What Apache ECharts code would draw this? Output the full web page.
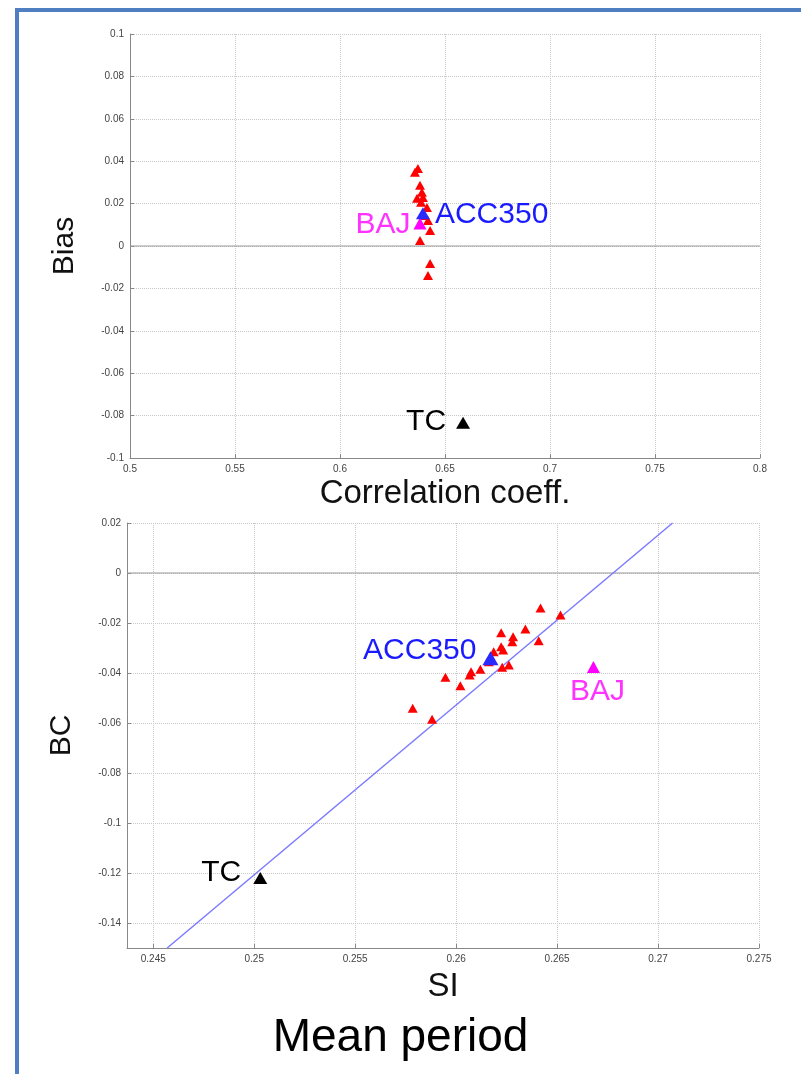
<!DOCTYPE html>
<html>
<head>
<meta charset="utf-8">
<script src="https://cdn.jsdelivr.net/npm/echarts@6/dist/echarts.min.js"></script>
<style>
  body { margin: 0; background: #fff; }
  #frame { position: absolute; left: 15px; top: 8px; width: 782px; height: 1080px;
           border: 4px solid #4f7fc0; border-bottom: none; }
  #chart { position: absolute; left: 0; top: 0; width: 801px; height: 1074px; }
</style>
</head>
<body>
<div id="frame"></div>
<div id="chart"></div>
<script>
    // top panel: correlation coeff. vs bias
    var topRed = [
        [0.6371, 0.0366], [0.6357, 0.0348], [0.6381, 0.0286], [0.6390, 0.0253],
        [0.6367, 0.0225], [0.6395, 0.0229], [0.6414, 0.0182], [0.6386, 0.0206],
        [0.6400, 0.0144], [0.6419, 0.0120], [0.6429, 0.0073], [0.6381, 0.0026],
        [0.6429, -0.0083], [0.6419, -0.0139]
    ];
    var topAcc = [[0.6395, 0.0154]];
    var topBaj = [[0.6381, 0.0106]];
    var topTc = [[0.6586, -0.0834]];
    var topXTicks = [0.5, 0.55, 0.6, 0.65, 0.7, 0.75, 0.8];
    var topYTicks = [-0.1, -0.08, -0.06, -0.04, -0.02, 0, 0.02, 0.04, 0.06, 0.08, 0.1];

    // bottom panel: SI vs BC
    var botRed = [
        [0.26418, -0.0140], [0.26517, -0.0168], [0.26343, -0.0224], [0.26223, -0.0239],
        [0.26282, -0.0255], [0.26278, -0.0275], [0.26409, -0.0271], [0.26223, -0.0295],
        [0.26233, -0.0308], [0.26186, -0.0315], [0.26162, -0.0355], [0.26228, -0.0377],
        [0.26261, -0.0368], [0.26120, -0.0385], [0.26074, -0.0395], [0.26067, -0.0408],
        [0.25947, -0.0417], [0.26021, -0.0451], [0.25785, -0.0541], [0.25881, -0.0585]
    ];
    var botAcc = [[0.26170, -0.0341]];
    var botBaj = [[0.26680, -0.0376]];
    var botTc = [[0.25030, -0.1220]];
    var fitLine = [[0.24569, -0.15], [0.27072, 0.02]];
    var botXTicks = [0.245, 0.25, 0.255, 0.26, 0.265, 0.27, 0.275];
    var botYTicks = [-0.14, -0.12, -0.1, -0.08, -0.06, -0.04, -0.02, 0, 0.02];

    var font = 'Liberation Sans, Arial, sans-serif';

    function xAx(idx, min, max, ticks, name, nameGap) {
        return {
            gridIndex: idx, type: 'value', min: min, max: max,
            name: name, nameLocation: 'middle', nameGap: nameGap,
            nameTextStyle: { fontSize: 33, color: '#111', fontFamily: font },
            axisLine: { onZero: false, lineStyle: { color: '#888' } },
            axisTick: { inside: true, length: 4, customValues: ticks, lineStyle: { color: '#888' } },
            axisLabel: { customValues: ticks, fontSize: 10, color: '#444', margin: 6, fontFamily: font,
                         showMinLabel: true, showMaxLabel: true },
            splitLine: { show: true, lineStyle: { color: '#c8c8c8', type: 'dotted' } }
        };
    }
    function yAx(idx, min, max, ticks, name) {
        return {
            gridIndex: idx, type: 'value', min: min, max: max,
            name: name, nameLocation: 'middle', nameGap: 50, nameRotate: 90,
            nameTextStyle: { fontSize: 30, color: '#111', fontFamily: font },
            axisLine: { onZero: false, lineStyle: { color: '#888' } },
            axisTick: { inside: true, length: 4, customValues: ticks, lineStyle: { color: '#888' } },
            axisLabel: { customValues: ticks, fontSize: 10, color: '#444', margin: 6, fontFamily: font },
            splitLine: { show: true, lineStyle: { color: '#c8c8c8', type: 'dotted' } }
        };
    }
    function pts(idx, data, color, size, z, label) {
        var s = {
            type: 'scatter', xAxisIndex: idx, yAxisIndex: idx, data: data,
            symbol: 'triangle', symbolSize: size, z: z,
            itemStyle: { color: color, opacity: 1 }, silent: true
        };
        if (label) s.label = label;
        return s;
    }
    function lab(text, color, position, distance, offset) {
        return { show: true, formatter: text, position: position, distance: distance,
                 offset: offset || [0, 0], color: color, fontSize: 30, fontFamily: font };
    }
    function zeroLine(idx, min, max) {
        return { type: 'line', xAxisIndex: idx, yAxisIndex: idx, data: [[min, 0], [max, 0]],
                 symbol: 'none', lineStyle: { color: '#999', width: 1 }, silent: true, z: 1 };
    }

    var myChart = echarts.init(document.getElementById('chart'));

    var option = {
        animation: false,
        grid: [
            { left: 130, top: 34, width: 630, height: 424 },
            { left: 127, top: 523, width: 632, height: 425 }
        ],
        xAxis: [
            xAx(0, 0.5, 0.8, topXTicks, 'Correlation coeff.', 19),
            xAx(1, 0.2437, 0.275, botXTicks, 'SI', 22)
        ],
        yAxis: [
            yAx(0, -0.1, 0.1, topYTicks, 'Bias'),
            yAx(1, -0.15, 0.02, botYTicks, 'BC')
        ],
        title: {
            text: 'Mean period', left: 'center', top: 1010,
            textStyle: { fontSize: 46, fontWeight: 'normal', color: '#000', fontFamily: font }
        },
        series: [
            zeroLine(0, 0.5, 0.8),
            zeroLine(1, 0.2437, 0.275),
            {
                type: 'line', xAxisIndex: 1, yAxisIndex: 1, data: fitLine, symbol: 'none',
                lineStyle: { color: '#7b7bff', width: 1.5 }, silent: true, z: 2
            },
            pts(0, topRed, '#ff0000', [10, 9], 3),
            pts(0, topBaj, '#ff00ff', [13, 12], 4, lab('BAJ', '#ff33ff', 'left', 3, [0, 1])),
            pts(0, topAcc, '#2a2aff', [14, 12], 5, lab('ACC350', '#1a1aff', 'right', 5, [0, 1])),
            pts(0, topTc, '#000000', [14, 12], 4, lab('TC', '#000', 'left', 10, [0, -1])),
            pts(1, botRed, '#ff0000', [10, 9], 3),
            pts(1, botAcc, '#2a2aff', [16, 14], 5, lab('ACC350', '#1a1aff', 'left', 6, [0, -8])),
            pts(1, botBaj, '#ff00ff', [13, 12], 4, lab('BAJ', '#ff33ff', 'bottom', 4, [4, 0])),
            pts(1, botTc, '#000000', [14, 12], 4, lab('TC', '#000', 'left', 12, [0, -5]))
        ]
    };

    myChart.setOption(option);
</script>
</body>
</html>
